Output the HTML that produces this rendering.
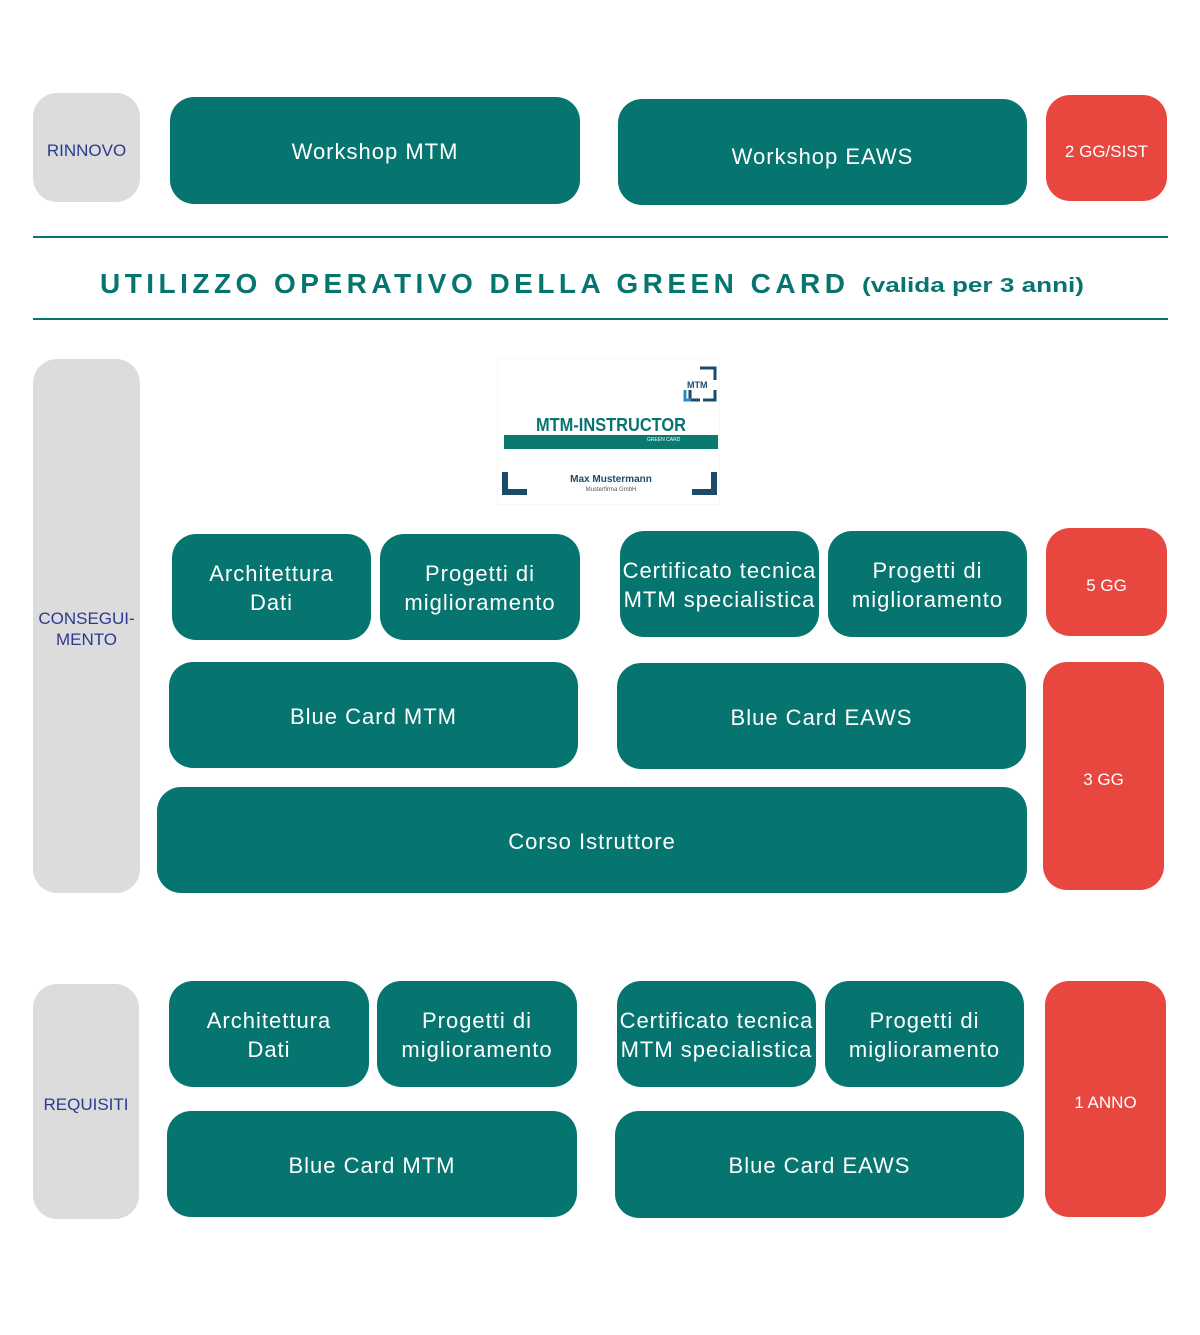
<!DOCTYPE html>
<html><head><meta charset="utf-8"><style>
body{margin:0;width:1200px;height:1335px;background:#fff;position:relative;font-family:"Liberation Sans",sans-serif;overflow:hidden}
.b{position:absolute;display:flex;align-items:center;justify-content:center;text-align:center;box-sizing:border-box}
.t{background:#067570;color:#fff;border-radius:24px;font-size:22px;letter-spacing:1px;line-height:29px;padding-top:2px}
.g{background:#dcdcdc;color:#2b3a8f;border-radius:24px;font-size:17px;line-height:21px;padding-top:6px}
.r{background:#e8473f;color:#fff;border-radius:24px;font-size:17px;padding-top:7px}
.l{position:absolute;left:33px;width:1135px;height:2px;background:#067570}
</style></head><body>
<div class="b g" style="left:33px;top:93px;width:107px;height:109px">RINNOVO</div>
<div class="b t" style="left:170px;top:97px;width:410px;height:107px">Workshop MTM</div>
<div class="b t" style="left:618px;top:99px;width:409px;height:106px;padding-top:8px">Workshop EAWS</div>
<div class="b r" style="left:1046px;top:95px;width:121px;height:106px">2 GG/SIST</div>
<div class="l" style="top:236px"></div>
<div class="l" style="top:318px"></div>
<svg style="position:absolute;left:0;top:255px" width="1200" height="55">
<text x="100" y="38" textLength="745" lengthAdjust="spacing" font-family="Liberation Sans" font-weight="bold" font-size="28" fill="#067570">UTILIZZO OPERATIVO DELLA GREEN CARD</text>
<text x="862" y="37" textLength="222" lengthAdjust="spacingAndGlyphs" font-family="Liberation Sans" font-weight="bold" font-size="20" fill="#067570">(valida per 3 anni)</text>
</svg>
<div class="b g" style="left:33px;top:359px;width:107px;height:534px">CONSEGUI-<br>MENTO</div>
<svg style="position:absolute;left:497px;top:358px" width="223" height="147">
<rect x="0" y="0" width="223" height="147" fill="#fff" stroke="#f0f0f0"/>
<path d="M203 10h15v12M218 32v10h-12M193 32v10h10" fill="none" stroke="#1b4a6b" stroke-width="3"/>
<path d="M188 32v10h6" fill="none" stroke="#2a8ec0" stroke-width="3"/>
<text x="190" y="30" font-family="Liberation Sans" font-weight="bold" font-size="9" fill="#1b4a6b">MTM</text>
<text x="39" y="73" textLength="150" lengthAdjust="spacingAndGlyphs" font-family="Liberation Sans" font-weight="bold" font-size="18" fill="#067570">MTM-INSTRUCTOR</text>
<rect x="7" y="77" width="214" height="14" fill="#0a7a70"/>
<text x="150" y="83" font-family="Liberation Sans" font-size="5" fill="#fff">GREEN CARD</text>
<path d="M8 114v20h22M217 114v20h-22" fill="none" stroke="#1b4a6b" stroke-width="6"/>
<text x="114" y="124" text-anchor="middle" font-family="Liberation Sans" font-weight="bold" font-size="10" fill="#1b4a6b">Max Mustermann</text>
<text x="114" y="133" text-anchor="middle" font-family="Liberation Sans" font-size="6" fill="#555">Musterfirma GmbH</text>
</svg>
<div class="b t" style="left:172px;top:534px;width:199px;height:106px">Architettura<br>Dati</div>
<div class="b t" style="left:380px;top:534px;width:200px;height:106px">Progetti di<br>miglioramento</div>
<div class="b t" style="left:620px;top:531px;width:199px;height:106px">Certificato tecnica<br>MTM specialistica</div>
<div class="b t" style="left:828px;top:531px;width:199px;height:106px">Progetti di<br>miglioramento</div>
<div class="b r" style="left:1046px;top:528px;width:121px;height:108px">5 GG</div>
<div class="b t" style="left:169px;top:662px;width:409px;height:106px">Blue Card MTM</div>
<div class="b t" style="left:617px;top:663px;width:409px;height:106px">Blue Card EAWS</div>
<div class="b r" style="left:1043px;top:662px;width:121px;height:228px">3 GG</div>
<div class="b t" style="left:157px;top:787px;width:870px;height:106px">Corso Istruttore</div>
<div class="b g" style="left:33px;top:984px;width:106px;height:235px">REQUISITI</div>
<div class="b t" style="left:169px;top:981px;width:200px;height:106px">Architettura<br>Dati</div>
<div class="b t" style="left:377px;top:981px;width:200px;height:106px">Progetti di<br>miglioramento</div>
<div class="b t" style="left:617px;top:981px;width:199px;height:106px">Certificato tecnica<br>MTM specialistica</div>
<div class="b t" style="left:825px;top:981px;width:199px;height:106px">Progetti di<br>miglioramento</div>
<div class="b t" style="left:167px;top:1111px;width:410px;height:106px">Blue Card MTM</div>
<div class="b t" style="left:615px;top:1111px;width:409px;height:107px">Blue Card EAWS</div>
<div class="b r" style="left:1045px;top:981px;width:121px;height:236px">1 ANNO</div>
</body></html>
